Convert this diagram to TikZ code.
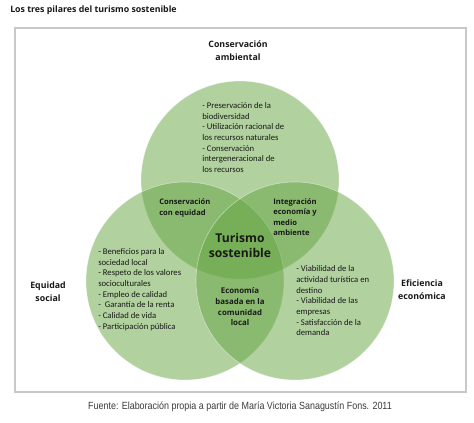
\documentclass[tikz,border=0pt]{standalone}
\usepackage{fontspec}
\setmainfont{Carlito}
\newfontfamily\boldfont{Open Sans}
\newfontfamily\narrowfont[FakeStretch=0.86]{Liberation Sans}
\definecolor{cg}{RGB}{100,165,65}
\definecolor{txt}{RGB}{25,25,25}
\definecolor{frame}{RGB}{200,200,200}
\tikzset{
  circ/.style={circle, minimum size=148.5pt, inner sep=0pt, fill=cg, fill opacity=0.5, draw=white, draw opacity=0.45, line width=0.5pt},
  listtxt/.style={anchor=west, align=left, inner sep=0pt, text=txt, font=\fontsize{6.5}{8}\selectfont},
  pillar/.style={align=center, inner sep=0pt, text=txt, font=\boldfont\bfseries\fontsize{6.6}{9.75}\selectfont},
  lens/.style={align=left, inner sep=0pt, text=txt, font=\boldfont\bfseries\fontsize{5.7}{7.7}\selectfont},
}
\begin{document}
\begin{tikzpicture}[x=0.75pt,y=-0.75pt]
\useasboundingbox (0,0) rectangle (474,423);
\fill[white] (0,0) rectangle (474,423);
\node[draw=frame, line width=0.9pt, minimum width=338.25pt, minimum height=273pt, inner sep=0pt] (frm) at (240.5,210) {};
\node[anchor=west, inner sep=0pt, text=txt, font=\boldfont\bfseries\fontsize{6.6}{7}\selectfont] (title) at (10,10) {Los tres pilares del turismo sostenible};
\node[circ] (ctop) at (240,180) {};
\node[circ] (cleft) at (185,281) {};
\node[circ] (cright) at (295,281) {};
\node[pillar] (ptop) at (238,51) {Conservación\\ambiental};
\node[pillar] (pleft) at (48,292) {Equidad\\social};
\node[pillar] (pright) at (422,290) {Eficiencia\\económica};
\node[listtxt] (ltop) at (202,137.5) {- Preservación de la\\biodiversidad\\- Utilización racional de\\los recursos naturales\\- Conservación\\intergeneracional de\\los recursos};
\node[listtxt] (lleft) at (98,289.5) {- Beneficios para la\\sociedad local\\- Respeto de los valores\\socioculturales\\- Empleo de calidad\\-\ \ Garantía de la renta\\- Calidad de vida\\- Participación pública};
\node[listtxt] (lright) at (296,301) {- Viabilidad de la\\actividad turística en\\destino\\- Viabilidad de las\\empresas\\- Satisfacción de la\\demanda};
\node[lens, anchor=west] (ce) at (159,208) {Conservación\\con equidad};
\node[lens, anchor=west] (ie) at (273,217) {Integración\\economía y\\medio\\ambiente};
\node[lens, align=center, font=\boldfont\bfseries\fontsize{5.9}{8}\selectfont] (eb) at (240,307) {Economía\\basada en la\\comunidad\\local};
\node[align=center, inner sep=0pt, text=txt, font=\boldfont\bfseries\fontsize{9.1}{11.2}\selectfont] (ts) at (240,245) {Turismo\\sostenible};
\node[inner sep=0pt, text=txt!85, font=\narrowfont\fontsize{7.8}{8}\selectfont] (src) at (240,407) {Fuente: Elaboración propia a partir de María Victoria Sanagustín Fons. 2011};
\end{tikzpicture}
\end{document}
